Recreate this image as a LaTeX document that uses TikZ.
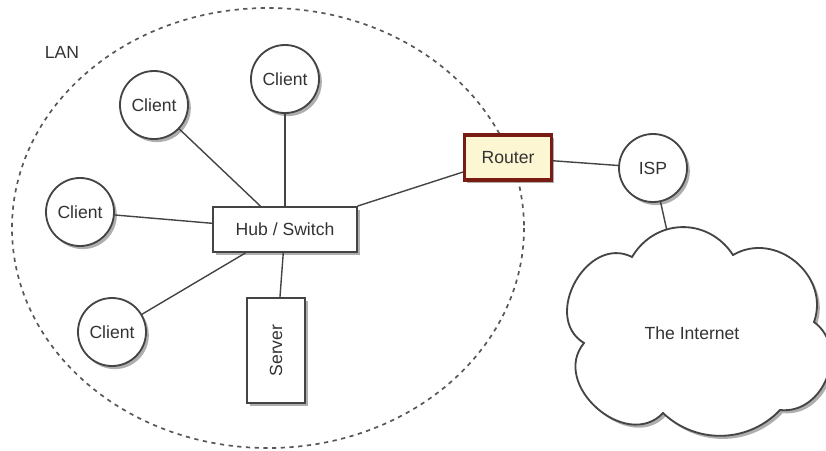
\documentclass[tikz,border=0pt]{standalone}
\usepackage{fontspec}
\setmainfont{Liberation Sans}
\usetikzlibrary{shadows}
\definecolor{linecol}{HTML}{444444}
\definecolor{txtcol}{HTML}{333333}
\definecolor{routerfill}{HTML}{FCF7D2}
\definecolor{routerdraw}{HTML}{7A1C14}
\begin{document}
\begin{tikzpicture}[x=0.025cm,y=-0.025cm,
  every node/.style={font=\fontsize{12.5}{15}\selectfont, text=txtcol},
  shad/.style={drop shadow={opacity=0.45, shadow xshift=2pt, shadow yshift=-2.2pt, fill=black!70}},
  host/.style={circle, draw=linecol, line width=1.3pt, fill=white, minimum size=1.7cm, inner sep=0pt, shad},
  box/.style={rectangle, draw=linecol, line width=1.3pt, fill=white, inner sep=0pt, shad},
  link/.style={draw=linecol, line width=1pt}]
\useasboundingbox (0,0) rectangle (826,450);
% LAN boundary
\draw[linecol!90, line width=1.2pt, dash pattern=on 3pt off 3.2pt] (268,228) ellipse [x radius=256, y radius=220];
\node (lan) at (62,52) {LAN};
% nodes
\node[host] (c1) at (154,105) {Client};
\node[host] (c2) at (285,79) {Client};
\node[host] (c3) at (80,212) {Client};
\node[host] (c4) at (112,332) {Client};
\node[box, minimum width=3.6cm, minimum height=1.125cm] (hub) at (285,229.5) {Hub / Switch};
\node[box, minimum width=1.45cm, minimum height=2.625cm] (srv) at (276,350.5) {};
\node[rotate=90] (srvt) at (276,350.5) {Server};
\node[box, draw=routerdraw, fill=routerfill, line width=2.2pt, minimum width=2.175cm, minimum height=1.125cm] (rtr) at (508,157.5) {Router};
\node[host] (isp) at (653,168) {ISP};
\coordinate (nettop) at (669,240);
% connectors
\path[link] (c1) -- (hub);
\path[link] (c2) -- (hub);
\path[link] (c3) -- (hub);
\path[link] (c4) -- (hub);
\path[link] (srv) -- (hub);
\path[link] (hub) -- (rtr);
\path[link] (rtr) -- (isp);
\path[link] (isp) -- (nettop);
% cloud
\coordinate (n1) at (632,257);
\coordinate (n2) at (733,255);
\coordinate (n3) at (814,322);
\coordinate (n4) at (780,410);
\coordinate (n5) at (663,413);
\coordinate (n6) at (584,343);
\path[draw=linecol, line width=1.3pt, fill=white, shad]
  (n1) to[bend left=58, looseness=1.15] (n2) to[bend left=70, looseness=1.2] (n3) to[bend left=75, looseness=1.2] (n4)
  to[bend left=45] (n5) to[bend left=88, looseness=1.3] (n6) to[bend left=88, looseness=1.3] (n1) -- cycle;
\node (net) at (692,333) {The Internet};
\end{tikzpicture}
\end{document}
